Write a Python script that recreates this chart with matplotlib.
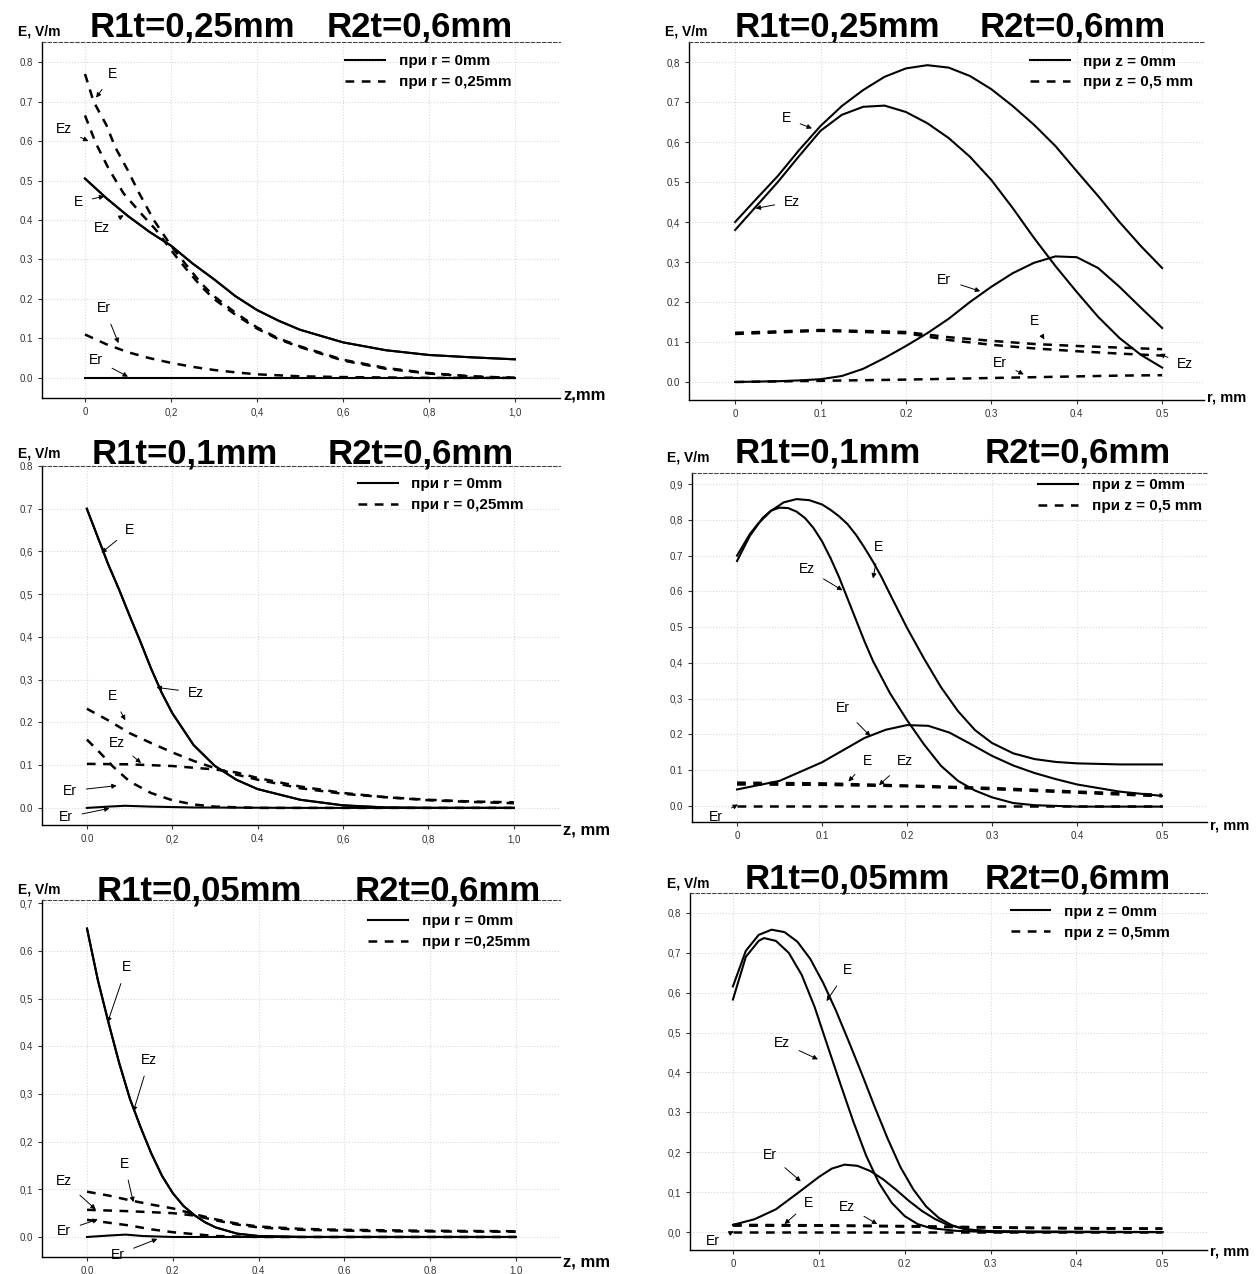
import matplotlib.pyplot as plt
from matplotlib.lines import Line2D

plt.rcParams['font.family'] = ['Liberation Sans', 'DejaVu Sans']

W, H = 1257, 1274

# ---------------- panel 1 : R1t=0,25mm, E(z) ----------------
p1_z_solid = [0, 0.05, 0.1, 0.15, 0.2, 0.25, 0.3, 0.35, 0.4, 0.45, 0.5, 0.6, 0.7, 0.8, 0.9, 1.0]
p1_E_r0 = [0.505, 0.455, 0.41, 0.37, 0.335, 0.29, 0.25, 0.207, 0.172, 0.145, 0.122, 0.09, 0.07, 0.058, 0.052, 0.047]
p1_Ez_r0 = [0.505, 0.455, 0.41, 0.37, 0.335, 0.29, 0.25, 0.207, 0.172, 0.145, 0.122, 0.09, 0.07, 0.058, 0.052, 0.047]
p1_Er_r0 = [0, 0, 0, 0, 0, 0, 0, 0, 0, 0, 0, 0, 0, 0, 0, 0]
p1_z_E = [0, 0.02, 0.05, 0.07, 0.1, 0.125, 0.16, 0.2, 0.24, 0.27, 0.3, 0.35, 0.4, 0.45, 0.5, 0.6, 0.7, 0.8, 0.9, 1.0]
p1_E_r025 = [0.77, 0.70, 0.64, 0.585, 0.525, 0.47, 0.40, 0.335, 0.28, 0.24, 0.207, 0.165, 0.128, 0.10, 0.08, 0.046, 0.025, 0.012, 0.004, 0.0]
p1_z_Ez = [0, 0.025, 0.055, 0.09, 0.13, 0.165, 0.21, 0.24, 0.27, 0.3, 0.35, 0.4, 0.45, 0.5, 0.6, 0.7, 0.8, 0.9, 1.0]
p1_Ez_r025 = [0.665, 0.595, 0.53, 0.467, 0.417, 0.375, 0.31, 0.27, 0.232, 0.2, 0.16, 0.125, 0.098, 0.078, 0.044, 0.023, 0.011, 0.003, 0.0]
p1_z_Er = [0, 0.05, 0.1, 0.15, 0.2, 0.25, 0.3, 0.35, 0.4, 0.5, 0.6, 0.8, 1.0]
p1_Er_r025 = [0.11, 0.085, 0.065, 0.05, 0.038, 0.028, 0.02, 0.014, 0.009, 0.004, 0.002, 0.0, 0.0]

# ---------------- panel 2 : R1t=0,25mm, E(r) ----------------
p2_r = [0, 0.025, 0.05, 0.075, 0.1, 0.125, 0.15, 0.175, 0.2, 0.225, 0.25,
        0.275, 0.3, 0.325, 0.35, 0.375, 0.4, 0.425, 0.45, 0.475, 0.5]
p2_E_z0 = [0.40, 0.458, 0.515, 0.58, 0.64, 0.69, 0.73, 0.763, 0.784, 0.792, 0.786,
           0.765, 0.732, 0.69, 0.643, 0.59, 0.527, 0.465, 0.40, 0.34, 0.285]
p2_Ez_z0 = [0.38, 0.44, 0.50, 0.565, 0.628, 0.668, 0.688, 0.691, 0.675, 0.647, 0.61,
            0.563, 0.505, 0.435, 0.36, 0.29, 0.225, 0.163, 0.11, 0.068, 0.036]
p2_Er_z0 = [0, 0.001, 0.002, 0.004, 0.007, 0.015, 0.033, 0.06, 0.09, 0.122, 0.158,
            0.2, 0.238, 0.272, 0.298, 0.314, 0.312, 0.285, 0.238, 0.186, 0.135]
p2_r_d = [0, 0.1, 0.2, 0.25, 0.3, 0.35, 0.4, 0.45, 0.5]
p2_E_z05 = [0.123, 0.13, 0.125, 0.112, 0.103, 0.095, 0.09, 0.086, 0.082]
p2_Ez_z05 = [0.12, 0.128, 0.122, 0.105, 0.093, 0.084, 0.077, 0.071, 0.066]
p2_Er_z05 = [0.0, 0.003, 0.006, 0.008, 0.01, 0.012, 0.014, 0.016, 0.017]

# ---------------- panel 3 : R1t=0,1mm, E(z) ----------------
p3_z_solid = [0, 0.025, 0.05, 0.075, 0.1, 0.125, 0.15, 0.175, 0.2, 0.25, 0.3, 0.35, 0.4, 0.5, 0.6, 0.7, 0.8, 1.0]
p3_E_r0 = [0.70, 0.635, 0.57, 0.512, 0.45, 0.39, 0.327, 0.27, 0.222, 0.147, 0.098, 0.066, 0.044, 0.019, 0.006, 0.001, 0.0, 0.0]
p3_Ez_r0 = [0.70, 0.635, 0.57, 0.512, 0.45, 0.39, 0.327, 0.27, 0.222, 0.147, 0.098, 0.066, 0.044, 0.019, 0.006, 0.001, 0.0, 0.0]
p3_z_er = [0, 0.05, 0.09, 0.15, 0.25, 0.5, 1.0]
p3_Er_r0 = [0, 0.003, 0.005, 0.003, 0.001, 0.0, 0.0]
p3_z_E = [0, 0.05, 0.1, 0.15, 0.2, 0.25, 0.3, 0.35, 0.4, 0.5, 0.6, 0.7, 0.8, 0.9, 1.0]
p3_E_r025 = [0.232, 0.205, 0.175, 0.152, 0.13, 0.11, 0.093, 0.078, 0.066, 0.046, 0.033, 0.025, 0.019, 0.015, 0.013]
p3_z_Ez = [0, 0.1, 0.2, 0.3, 0.35, 0.4, 0.5, 0.6, 0.7, 0.8, 0.9, 1.0]
p3_Ez_r025 = [0.103, 0.102, 0.098, 0.09, 0.083, 0.07, 0.05, 0.035, 0.025, 0.018, 0.014, 0.011]
p3_z_Er = [0, 0.03, 0.06, 0.1, 0.15, 0.2, 0.25, 0.3, 0.4, 1.0]
p3_Er_r025 = [0.16, 0.13, 0.098, 0.062, 0.035, 0.018, 0.008, 0.003, 0.0, 0.0]

# ---------------- panel 4 : R1t=0,1mm, E(r) ----------------
p4_r_E = [0, 0.015, 0.025, 0.04, 0.055, 0.07, 0.085, 0.1, 0.11, 0.12, 0.13, 0.14, 0.15, 0.16,
          0.17, 0.18, 0.19, 0.2, 0.22, 0.24, 0.26, 0.28, 0.3, 0.325, 0.35, 0.375, 0.4, 0.45, 0.5]
p4_E_z0 = [0.70, 0.76, 0.79, 0.825, 0.849, 0.858, 0.855, 0.843, 0.828, 0.81, 0.788, 0.758, 0.722, 0.683,
           0.64, 0.592, 0.545, 0.498, 0.412, 0.332, 0.265, 0.212, 0.176, 0.147, 0.131, 0.123, 0.119, 0.116, 0.116]
p4_r_Ez = [0, 0.015, 0.03, 0.04, 0.05, 0.06, 0.07, 0.08, 0.09, 0.1, 0.11, 0.12, 0.13, 0.14,
           0.15, 0.16, 0.18, 0.2, 0.22, 0.24, 0.26, 0.28, 0.3, 0.325, 0.35, 0.4, 0.5]
p4_Ez_z0 = [0.685, 0.755, 0.805, 0.826, 0.834, 0.833, 0.823, 0.805, 0.777, 0.74, 0.693, 0.64, 0.58, 0.52,
            0.46, 0.405, 0.315, 0.24, 0.172, 0.112, 0.07, 0.043, 0.024, 0.008, 0.002, -0.002, -0.002]
p4_r_Er = [0, 0.05, 0.1, 0.15, 0.175, 0.2, 0.225, 0.25, 0.275, 0.3, 0.325, 0.35, 0.375, 0.4, 0.45, 0.5]
p4_Er_z0 = [0.046, 0.07, 0.122, 0.19, 0.213, 0.226, 0.224, 0.205, 0.173, 0.14, 0.113, 0.092, 0.075, 0.06, 0.04, 0.028]
p4_r_d = [0, 0.1, 0.2, 0.3, 0.4, 0.5]
p4_E_z05 = [0.065, 0.063, 0.057, 0.05, 0.04, 0.031]
p4_Ez_z05 = [0.06, 0.059, 0.055, 0.047, 0.037, 0.027]
p4_Er_z05 = [0.0, 0.0, 0.0, 0.0, 0.0, 0.0]

# ---------------- panel 5 : R1t=0,05mm, E(z) ----------------
p5_z_solid = [0, 0.025, 0.05, 0.075, 0.1, 0.125, 0.15, 0.175, 0.2, 0.225, 0.25, 0.275, 0.3, 0.35, 0.4, 0.5, 1.0]
p5_E_r0 = [0.647, 0.54, 0.45, 0.365, 0.29, 0.23, 0.175, 0.128, 0.092, 0.065, 0.046, 0.031, 0.02, 0.007, 0.002, 0.0, 0.0]
p5_Ez_r0 = [0.647, 0.54, 0.45, 0.365, 0.29, 0.23, 0.175, 0.128, 0.092, 0.065, 0.046, 0.031, 0.02, 0.007, 0.002, 0.0, 0.0]
p5_z_er = [0, 0.05, 0.09, 0.13, 0.2, 1.0]
p5_Er_r0 = [0, 0.003, 0.005, 0.002, 0.0, 0.0]
p5_z_E = [0, 0.05, 0.1, 0.15, 0.2, 0.25, 0.3, 0.35, 0.4, 0.5, 0.6, 0.8, 1.0]
p5_E_r025 = [0.095, 0.087, 0.077, 0.068, 0.06, 0.048, 0.037, 0.028, 0.022, 0.017, 0.015, 0.013, 0.012]
p5_z_Ez = [0, 0.1, 0.2, 0.25, 0.3, 0.35, 0.4, 0.5, 0.7, 1.0]
p5_Ez_r025 = [0.057, 0.054, 0.05, 0.045, 0.035, 0.026, 0.02, 0.015, 0.012, 0.011]
p5_z_Er = [0, 0.05, 0.1, 0.15, 0.2, 0.25, 0.3, 0.4, 1.0]
p5_Er_r025 = [0.036, 0.03, 0.024, 0.016, 0.01, 0.006, 0.002, 0.0, 0.0]

# ---------------- panel 6 : R1t=0,05mm, E(r) ----------------
p6_r_E = [0, 0.015, 0.03, 0.045, 0.06, 0.075, 0.09, 0.105, 0.12, 0.135, 0.15, 0.165, 0.18,
          0.195, 0.21, 0.225, 0.24, 0.255, 0.27, 0.3, 0.35, 0.5]
p6_E_z0 = [0.616, 0.705, 0.745, 0.758, 0.752, 0.728, 0.685, 0.625, 0.555, 0.477, 0.397, 0.314, 0.235,
           0.163, 0.107, 0.064, 0.035, 0.017, 0.007, 0.002, 0.0, 0.0]
p6_r_Ez = [0, 0.015, 0.03, 0.036, 0.05, 0.065, 0.08, 0.095, 0.11, 0.125, 0.14, 0.155, 0.17,
           0.185, 0.2, 0.215, 0.23, 0.26, 0.3, 0.5]
p6_Ez_z0 = [0.583, 0.69, 0.73, 0.737, 0.73, 0.70, 0.645, 0.565, 0.468, 0.372, 0.278, 0.192, 0.123,
            0.073, 0.04, 0.02, 0.01, 0.003, 0.0, 0.0]
p6_r_Er = [0, 0.025, 0.05, 0.075, 0.1, 0.115, 0.13, 0.145, 0.16, 0.175, 0.19, 0.205, 0.22,
           0.235, 0.25, 0.275, 0.3, 0.5]
p6_Er_z0 = [0.018, 0.032, 0.057, 0.097, 0.138, 0.159, 0.169, 0.166, 0.153, 0.132, 0.106, 0.078, 0.053,
            0.033, 0.018, 0.006, 0.002, 0.0]
p6_r_d = [0, 0.1, 0.2, 0.3, 0.4, 0.5]
p6_E_z05 = [0.018, 0.017, 0.015, 0.012, 0.01, 0.009]
p6_Ez_z05 = [0.016, 0.016, 0.014, 0.011, 0.009, 0.008]
p6_Er_z05 = [0.0, 0.0, 0.0, 0.0, 0.0, 0.0]

# ---------------- ticks / texts ----------------
z_ticks = [0, 0.2, 0.4, 0.6, 0.8, 1.0]
r_ticks = [0, 0.1, 0.2, 0.3, 0.4, 0.5]
p1_xlabels = ['0', '0,2', '0,4', '0,6', '0,8', '1,0']
p3_xlabels = ['0.0', '0,2', '0.4', '0,6', '0,8', '1,0']
p5_xlabels = ['0.0', '0.2', '0.4', '0.6', '0.8', '1.0']
r_xlabels = ['0', '0.1', '0.2', '0.3', '0.4', '0.5']
y8_ticks = [0, 0.1, 0.2, 0.3, 0.4, 0.5, 0.6, 0.7, 0.8]
p1_ylabels = ['0.0', '0.1', '0.2', '0.3', '0.4', '0.5', '0.6', '0.7', '0.8']
p2_ylabels = ['0.0', '0.1', '0.2', '0,3', '0,4', '0.5', '0,6', '0.7', '0,8']
p3_ylabels = ['0.0', '0.1', '0.2', '0,3', '0,4', '0,5', '0,6', '0.7', '0.8']
y9_ticks = [0, 0.1, 0.2, 0.3, 0.4, 0.5, 0.6, 0.7, 0.8, 0.9]
p4_ylabels = ['0.0', '0.1', '0.2', '0,3', '0,4', '0.5', '0.6', '0.7', '0,8', '0,9']
y7_ticks = [0, 0.1, 0.2, 0.3, 0.4, 0.5, 0.6, 0.7]
p5_ylabels = ['0.0', '0,1', '0,2', '0,3', '0.4', '0,5', '0.6', '0,7']
p6_ylabels = ['0,0', '0,1', '0,2', '0.3', '0,4', '0,5', '0,6', '0,7', '0,8']

titles_r1 = ['R1t=0,25mm', 'R1t=0,25mm', 'R1t=0,1mm', 'R1t=0,1mm', 'R1t=0,05mm', 'R1t=0,05mm']
title_r2 = 'R2t=0,6mm'
legend_z = [('при r = 0mm', 'при r = 0,25mm'), ('при z = 0mm', 'при z = 0,5 mm'),
            ('при r = 0mm', 'при r = 0,25mm'), ('при z = 0mm', 'при z = 0,5 mm'),
            ('при r = 0mm', 'при r =0,25mm'), ('при z = 0mm', 'при z = 0,5mm')]
xaxis_names = ['z,mm', 'r, mm', 'z, mm', 'r, mm', 'z, mm', 'r, mm']

fig = plt.figure(figsize=(W / 100, H / 100), dpi=100)


def px_rect(l, t, r, b):
    return [l / W, 1 - b / H, (r - l) / W, (b - t) / H]


def ftext(x, y, s, **kw):
    fig.text(x / W, 1 - y / H, s, **kw)


# pixel boxes of the six plotting areas and their limits
boxes = [(42, 42, 560, 398), (689, 42, 1204, 400),
         (42, 466, 560, 825), (692, 473, 1207, 822),
         (42, 900, 560, 1257), (690, 893, 1207, 1250)]
xlims = [(-0.1, 1.105), (-0.054, 0.549), (-0.105, 1.108), (-0.053, 0.553), (-0.105, 1.103), (-0.05, 0.552)]
ylims = [(-0.051, 0.851), (-0.045, 0.85), (-0.04, 0.8), (-0.045, 0.931), (-0.042, 0.707), (-0.045, 0.85)]
xt = [z_ticks, r_ticks, z_ticks, r_ticks, z_ticks, r_ticks]
xl = [p1_xlabels, r_xlabels, p3_xlabels, r_xlabels, p5_xlabels, r_xlabels]
yt = [y8_ticks, y8_ticks, y8_ticks, y9_ticks, y7_ticks, y8_ticks]
yl = [p1_ylabels, p2_ylabels, p3_ylabels, p4_ylabels, p5_ylabels, p6_ylabels]

axes = []
for i in range(6):
    ax = fig.add_axes(px_rect(*boxes[i]))
    ax.set_xlim(xlims[i])
    ax.set_ylim(ylims[i])
    ax.set_xticks(xt[i])
    ax.set_xticklabels(xl[i])
    ax.set_yticks(yt[i])
    ax.set_yticklabels(yl[i])
    ax.spines['right'].set_visible(False)
    ax.spines['top'].set_linestyle((0, (3, 2)))
    ax.spines['top'].set_linewidth(0.8)
    ax.spines['top'].set_color('#444444')
    ax.spines['left'].set_linewidth(1.0)
    ax.spines['bottom'].set_linewidth(1.0)
    ax.tick_params(labelsize=7, colors='#333333', length=3, width=0.8, direction='out')
    ax.grid(True, color='#d9d9d9', linestyle=':', linewidth=0.8)
    axes.append(ax)

SOL = dict(color='black', lw=1.5)
DASH = dict(color='black', lw=1.8, linestyle=(0, (3.5, 3)))

a = axes[0]
a.plot(p1_z_solid, p1_E_r0, **SOL)
a.plot(p1_z_solid, p1_Ez_r0, **SOL)
a.plot(p1_z_solid, p1_Er_r0, **SOL)
a.plot(p1_z_E, p1_E_r025, **DASH)
a.plot(p1_z_Ez, p1_Ez_r025, **DASH)
a.plot(p1_z_Er, p1_Er_r025, **DASH)

a = axes[1]
a.plot(p2_r, p2_E_z0, **SOL)
a.plot(p2_r, p2_Ez_z0, **SOL)
a.plot(p2_r, p2_Er_z0, **SOL)
a.plot(p2_r_d, p2_E_z05, **DASH)
a.plot(p2_r_d, p2_Ez_z05, **DASH)
a.plot(p2_r_d, p2_Er_z05, **DASH)

a = axes[2]
a.plot(p3_z_solid, p3_E_r0, **SOL)
a.plot(p3_z_solid, p3_Ez_r0, **SOL)
a.plot(p3_z_er, p3_Er_r0, **SOL)
a.plot(p3_z_E, p3_E_r025, **DASH)
a.plot(p3_z_Ez, p3_Ez_r025, **DASH)
a.plot(p3_z_Er, p3_Er_r025, **DASH)

a = axes[3]
a.plot(p4_r_E, p4_E_z0, **SOL)
a.plot(p4_r_Ez, p4_Ez_z0, **SOL)
a.plot(p4_r_Er, p4_Er_z0, **SOL)
a.plot(p4_r_d, p4_E_z05, **DASH)
a.plot(p4_r_d, p4_Ez_z05, **DASH)
a.plot(p4_r_d, p4_Er_z05, **DASH)

a = axes[4]
a.plot(p5_z_solid, p5_E_r0, **SOL)
a.plot(p5_z_solid, p5_Ez_r0, **SOL)
a.plot(p5_z_er, p5_Er_r0, **SOL)
a.plot(p5_z_E, p5_E_r025, **DASH)
a.plot(p5_z_Ez, p5_Ez_r025, **DASH)
a.plot(p5_z_Er, p5_Er_r025, **DASH)

a = axes[5]
a.plot(p6_r_E, p6_E_z0, **SOL)
a.plot(p6_r_Ez, p6_Ez_z0, **SOL)
a.plot(p6_r_Er, p6_Er_z0, **SOL)
a.plot(p6_r_d, p6_E_z05, **DASH)
a.plot(p6_r_d, p6_Ez_z05, **DASH)
a.plot(p6_r_d, p6_Er_z05, **DASH)

# curve labels with arrows: (text, arrow tip, text position)
notes = [
    [('E', (0.026, 0.71), (0.065, 0.77)), ('Ez', (0.008, 0.60), (-0.05, 0.63)),
     ('E', (0.045, 0.46), (-0.016, 0.446)), ('Ez', (0.09, 0.412), (0.04, 0.38)),
     ('Er', (0.078, 0.088), (0.045, 0.177)), ('Er', (0.1, 0.003), (0.026, 0.046))],
    [('E', (0.09, 0.634), (0.06, 0.659)), ('Ez', (0.024, 0.434), (0.067, 0.451)),
     ('Er', (0.287, 0.227), (0.245, 0.256)), ('E', (0.362, 0.106), (0.35, 0.152)),
     ('Er', (0.338, 0.019), (0.31, 0.048)), ('Ez', (0.497, 0.07), (0.527, 0.044))],
    [('E', (0.034, 0.597), (0.10, 0.65)), ('Ez', (0.163, 0.282), (0.256, 0.27)),
     ('E', (0.09, 0.205), (0.06, 0.262)), ('Ez', (0.127, 0.105), (0.07, 0.153)),
     ('Er', (0.07, 0.052), (-0.04, 0.04)), ('Er', (0.053, -0.001), (-0.05, -0.022))],
    [('E', (0.16, 0.636), (0.167, 0.724)), ('Ez', (0.124, 0.603), (0.082, 0.663)),
     ('Er', (0.157, 0.195), (0.124, 0.274)), ('E', (0.131, 0.068), (0.153, 0.125)),
     ('Ez', (0.167, 0.058), (0.198, 0.125)), ('Er', (0.001, 0.004), (-0.025, -0.03))],
    [('E', (0.048, 0.45), (0.092, 0.566)), ('Ez', (0.108, 0.263), (0.145, 0.372)),
     ('E', (0.108, 0.073), (0.087, 0.154)), ('Ez', (0.02, 0.058), (-0.054, 0.118)),
     ('Er', (0.025, 0.037), (-0.054, 0.013)), ('Er', (0.164, -0.004), (0.071, -0.037))],
    [('E', (0.109, 0.579), (0.133, 0.656)), ('Ez', (0.099, 0.433), (0.057, 0.475)),
     ('Er', (0.079, 0.127), (0.043, 0.194)), ('E', (0.06, 0.02), (0.088, 0.073)),
     ('Ez', (0.168, 0.02), (0.133, 0.064)), ('Er', (0.001, 0.002), (-0.023, -0.023))],
]
for ax, nl in zip(axes, notes):
    for s, tip, pos in nl:
        ax.annotate(s, xy=tip, xytext=pos, fontsize=10, ha='center', va='center',
                    annotation_clip=False,
                    arrowprops=dict(arrowstyle='-|>', lw=0.7, color='black',
                                    mutation_scale=7, shrinkA=5, shrinkB=0))

# legends
leg_pos = [(0.585, 0.965), (0.662, 0.965), (0.61, 0.968), (0.672, 0.985), (0.63, 0.96), (0.62, 0.967)]
for i, ax in enumerate(axes):
    h = [Line2D([], [], **SOL), Line2D([], [], **DASH)]
    ax.legend(h, legend_z[i], loc='upper left', bbox_to_anchor=leg_pos[i], frameon=False,
              prop=dict(size=11, weight='bold'), handlelength=2.6, borderpad=0,
              borderaxespad=0, labelspacing=0.45, handletextpad=0.9)

# titles above each plot: (x of "E, V/m", its baseline, x of R1t, x of R2t, title baseline)
title_pos = [(18, 36, 90, 327, 37), (665, 36, 735, 980, 36), (18, 457, 92, 328, 464),
             (667, 462, 735, 985, 462), (18, 893, 97, 355, 900), (667, 888, 745, 985, 889)]
for i, (xe, ye, x1, x2, yb) in enumerate(title_pos):
    ftext(xe, ye, 'E, V/m', fontsize=10, weight='bold', va='baseline')
    ftext(x1, yb, titles_r1[i], fontsize=25, weight='bold', va='baseline')
    ftext(x2, yb, title_r2, fontsize=25, weight='bold', va='baseline')

xname_pos = [(563, 395), (1207, 398), (563, 830), (1210, 826), (563, 1262), (1210, 1252)]
for s, (x, y) in zip(xaxis_names, xname_pos):
    ftext(x, y, s, fontsize=12 if 'z' in s else 10.5, weight='bold', va='center')

fig.savefig('out.png', dpi=100, facecolor='white')
